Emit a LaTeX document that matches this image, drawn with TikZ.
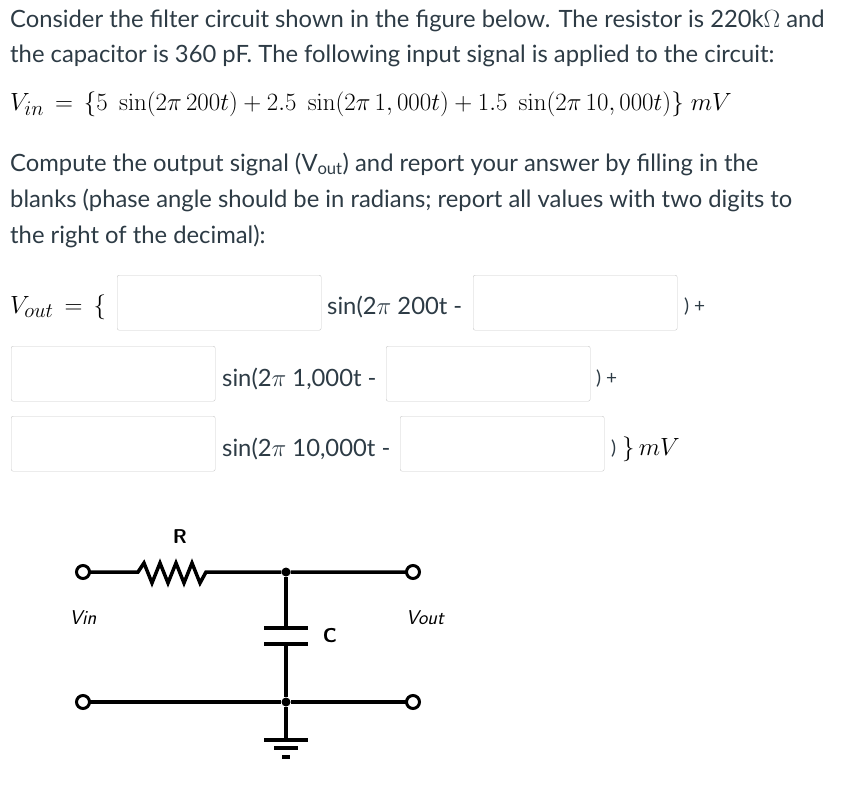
\documentclass[tikz,border=0pt]{standalone}
\usepackage[no-math]{fontspec}
\setmainfont{Lato}
\usetikzlibrary{positioning, calc}
\definecolor{boxgray}{RGB}{200,200,200}
\definecolor{txt}{RGB}{45,59,69}
\tikzset{
  para/.style={anchor=west, inner sep=0pt, text=txt, font=\fontsize{23.8}{28}\selectfont},
  eqn/.style={anchor=west, inner sep=0pt, font=\fontsize{28}{32}\selectfont},
  blank/.style={draw=boxgray, rounded corners=2pt, minimum width=204pt, minimum height=55pt, anchor=north west, inner sep=0pt},
  term/.style={circle, draw, line width=3pt, fill=white, minimum size=13pt, inner sep=0pt},
  dot/.style={circle, fill, minimum size=9pt, inner sep=0pt},
  wire/.style={line width=3.5pt},
  lbl/.style={inner sep=0pt, font=\sffamily\fontsize{20}{24}\selectfont}
}
\begin{document}
\begin{tikzpicture}[x=1pt, y=-1pt]
  \useasboundingbox (0,0) rectangle (853,793);
  \clip (0,0) rectangle (853,793);
  % question text
  \node[para] (l1) at (10,21)  {Consider the filter circuit shown in the figure below. The resistor is 220k$\Omega$ and};
  \node[para] (l2) at (10,56)  {the capacitor is 360 pF. The following input signal is applied to the circuit:};
  \node[eqn]  (vin) at (10,104) {$V_{in}\,=\,\{5\ \sin(2\pi\,200t)+2.5\ \sin(2\pi\,1,000t)+1.5\ \sin(2\pi\,10,000t)\}\ mV$};
  \node[para] (l3) at (10,164) {Compute the output signal (V\textsubscript{out}) and report your answer by filling in the};
  \node[para] (l4) at (10,200) {blanks (phase angle should be in radians; report all values with two digits to};
  \node[para] (l5) at (10,236) {the right of the decimal):};
  % answer blanks
  \node[eqn]  (vout) at (10,307) {$V_{out}\,=\,\{$};
  \node[blank] (a1) at (117,275) {};
  \node[para] (s1) at (327,307) {sin(2$\pi$ 200t -};
  \node[blank] (p1) at (473,275) {};
  \node[para] (e1) at (684,307) {\fontsize{19}{22}\selectfont) +};
  \node[blank] (a2) at (11,346) {};
  \node[para] (s2) at (222,379) {sin(2$\pi$ 1,000t -};
  \node[blank] (p2) at (386,346) {};
  \node[para] (e2) at (596,379) {\fontsize{19}{22}\selectfont) +};
  \node[blank] (a3) at (11,416) {};
  \node[para] (s3) at (222,449) {sin(2$\pi$ 10,000t -};
  \node[blank] (p3) at (400,416) {};
  \node[para] (e3) at (611,449) {\fontsize{19}{22}\selectfont)};
  \node[eqn]  (mv) at (622,449) {$\}\,mV$};
  % circuit
  \coordinate (ra) at (138,572);
  \coordinate (rb) at (207,572);
  \coordinate (ct) at (286,628);
  \coordinate (cb) at (286,644);
  \coordinate (gnd) at (286,740);
  \node[dot] (jt) at (286,572) {};
  \node[dot] (jb) at (286,702) {};
  \draw[wire] (83,572) -- (ra)
    -- ++(6,-9) -- ++(8,20) -- ++(8,-20) -- ++(8,20) -- ++(8,-20) -- ++(8,20) -- ++(8,-20) -- ++(8,20) -- ++(6,-11)
    -- (rb) -- (jt) -- (413,572);
  \draw[wire] (83,702) -- (jb) -- (413,702);
  \draw[wire] (jt) -- (ct);
  \draw[wire] (cb) -- (jb) -- (gnd);
  \draw[wire] ($(ct)+(-22,0)$) -- ++(44,0);
  \draw[wire] ($(cb)+(-22,0)$) -- ++(44,0);
  \draw[wire] (264,740) -- (308,740);
  \draw[wire] (274,748) -- (298,748);
  \draw[wire] (282,757) -- (290,757);
  \node[term] (t1) at (83,572) {};
  \node[term] (t2) at (413,572) {};
  \node[term] (t3) at (83,702) {};
  \node[term] (t4) at (413,702) {};
  \node[lbl] (rl) at (180,537) {\bfseries R};
  \node[lbl] (cl) at (330,636) {\bfseries C};
  \node[lbl] (vl) at (83,618) {\itshape Vin};
  \node[lbl] (wl) at (425,618) {\itshape Vout};
\end{tikzpicture}
\end{document}
